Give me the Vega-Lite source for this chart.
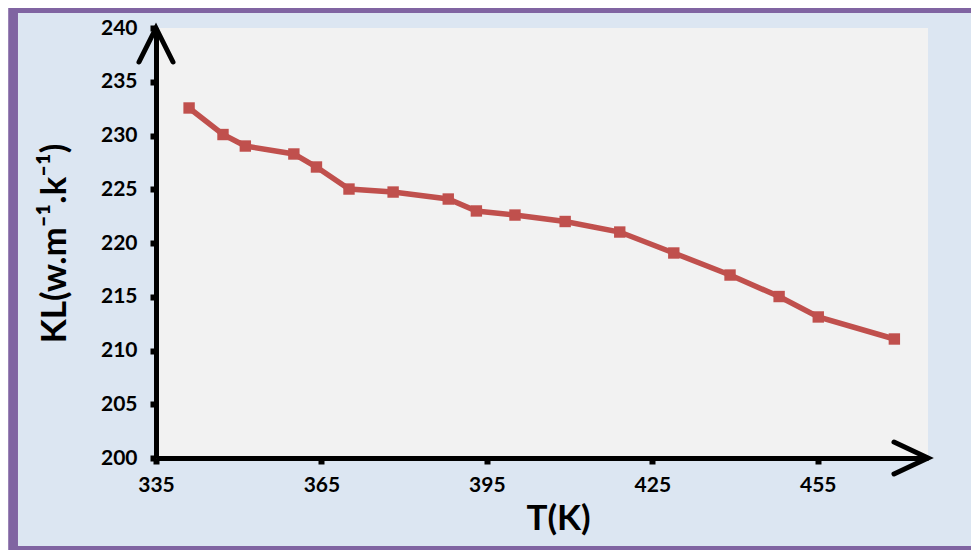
{
  "$schema": "https://vega.github.io/schema/vega-lite/v6.json",
  "width": 772,
  "height": 430,
  "autosize": {"type": "none"},
  "padding": {"left": 156, "top": 28, "right": 43, "bottom": 92},
  "background": "white",
  "config": {
    "view": {"stroke": null, "fill": null},
    "axis": {
      "labelFont": "Lato", "labelFontWeight": "bold", "labelFontSize": 21, "labelColor": "black",
      "titleFont": "Lato", "titleFontWeight": "bold", "titleFontSize": 35, "titleColor": "black",
      "grid": false, "labelFlush": false, "zindex": 1
    }
  },
  "datasets": {
    "kl": [
      {"T": 341.0, "KL": 232.56},
      {"T": 347.15, "KL": 230.09},
      {"T": 351.2, "KL": 229.02},
      {"T": 360.0, "KL": 228.28},
      {"T": 364.1, "KL": 227.07},
      {"T": 370.0, "KL": 225.02},
      {"T": 378.0, "KL": 224.74},
      {"T": 388.0, "KL": 224.09},
      {"T": 393.1, "KL": 222.98},
      {"T": 400.1, "KL": 222.6},
      {"T": 409.2, "KL": 222.0},
      {"T": 419.1, "KL": 221.02},
      {"T": 428.9, "KL": 219.07},
      {"T": 439.1, "KL": 217.02},
      {"T": 448.0, "KL": 215.02},
      {"T": 455.1, "KL": 213.12},
      {"T": 468.9, "KL": 211.07}
    ],
    "one": [{}]
  },
  "layer": [
    {
      "data": {"name": "one"},
      "mark": {"type": "rect", "fill": "#8064a2"},
      "encoding": {
        "x": {"datum": 308.2, "type": "quantitative", "scale": {"domain": [335, 475], "nice": false, "zero": false}, "title": "T(K)"},
        "x2": {"datum": 482.8},
        "y": {"datum": 241.86, "type": "quantitative", "scale": {"domain": [200, 240], "nice": false, "zero": false}, "title": "KL(w.m⁻¹.k⁻¹)"},
        "y2": {"datum": 191.45}
      }
    },
    {
      "data": {"name": "one"},
      "mark": {"type": "rect", "fill": "#dce6f2"},
      "encoding": {
        "x": {"datum": 309.97, "type": "quantitative", "scale": {"domain": [335, 475], "nice": false, "zero": false}, "title": "T(K)"},
        "x2": {"datum": 482.8},
        "y": {"datum": 241.4, "type": "quantitative", "scale": {"domain": [200, 240], "nice": false, "zero": false}, "title": "KL(w.m⁻¹.k⁻¹)"},
        "y2": {"datum": 191.81}
      }
    },
    {
      "data": {"name": "one"},
      "mark": {"type": "rect", "fill": "#f2f2f2"},
      "encoding": {
        "x": {"datum": 335, "type": "quantitative", "scale": {"domain": [335, 475], "nice": false, "zero": false}, "title": "T(K)"},
        "x2": {"datum": 475},
        "y": {"datum": 200, "type": "quantitative", "scale": {"domain": [200, 240], "nice": false, "zero": false}, "title": "KL(w.m⁻¹.k⁻¹)"},
        "y2": {"datum": 240}
      }
    },
    {
      "data": {"name": "kl"},
      "mark": {"type": "line", "color": "#c0504d", "strokeWidth": 5.5, "point": {"shape": "square", "size": 130, "filled": true, "color": "#c0504d", "opacity": 1}},
      "encoding": {
        "x": {"field": "T", "type": "quantitative", "scale": {"domain": [335, 475], "nice": false, "zero": false}, "title": "T(K)",
          "axis": {"values": [335, 365, 395, 425, 455], "domainColor": "black", "domainWidth": 5, "tickColor": "black", "tickWidth": 6, "tickSize": 6, "labelPadding": 10, "titlePadding": 6, "titleX": 402, "labelFlush": false, "zindex": 1}},
        "y": {"field": "KL", "type": "quantitative", "scale": {"domain": [200, 240], "nice": false, "zero": false}, "title": "KL(w.m⁻¹.k⁻¹)",
          "axis": {"values": [200, 205, 210, 215, 220, 225, 230, 235, 240], "domainColor": "black", "domainWidth": 5, "tickColor": "black", "tickWidth": 6, "tickSize": 6, "labelPadding": 13, "titlePadding": 28, "zindex": 1}}
      }
    },
    {
      "data": {"name": "one"},
      "mark": {"type": "point", "shape": "M-1,-0.47L0,0L-1,0.47", "size": 4624, "filled": false, "stroke": "black", "strokeWidth": 5, "opacity": 1, "strokeCap": "round", "strokeJoin": "miter"},
      "encoding": {
        "x": {"datum": 475, "type": "quantitative", "scale": {"domain": [335, 475], "nice": false, "zero": false}, "title": "T(K)"},
        "y": {"datum": 200, "type": "quantitative", "scale": {"domain": [200, 240], "nice": false, "zero": false}, "title": "KL(w.m⁻¹.k⁻¹)"}
      }
    },
    {
      "data": {"name": "one"},
      "mark": {"type": "point", "shape": "M-0.5,1L0,0L0.5,1", "size": 4624, "filled": false, "stroke": "black", "strokeWidth": 5, "opacity": 1, "strokeCap": "round", "strokeJoin": "miter"},
      "encoding": {
        "x": {"datum": 335, "type": "quantitative", "scale": {"domain": [335, 475], "nice": false, "zero": false}, "title": "T(K)"},
        "y": {"datum": 240, "type": "quantitative", "scale": {"domain": [200, 240], "nice": false, "zero": false}, "title": "KL(w.m⁻¹.k⁻¹)"}
      }
    }
  ]
}
